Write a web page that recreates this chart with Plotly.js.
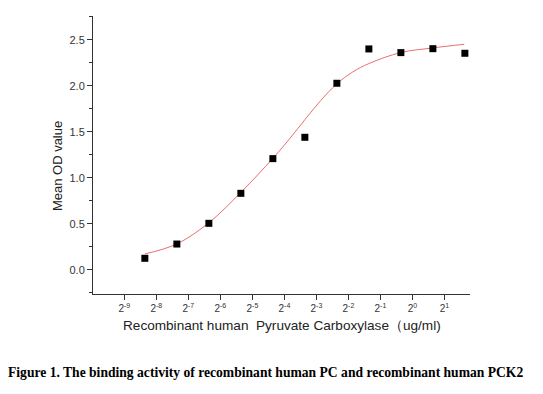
<!DOCTYPE html>
<html>
<head>
<meta charset="utf-8">
<script src="https://cdn.plot.ly/plotly-3.0.1.min.js"></script>
<style>html,body{margin:0;padding:0;background:#fff;}#chart{width:543px;height:394px;}</style>
</head>
<body>
<div id="chart"></div>
<script>
// Concentration as log2(ug/ml)
const concLog2 = [-8.36, -7.36, -6.36, -5.36, -4.36, -3.36, -2.36, -1.36, -0.36, 0.64, 1.64];
const meanOD   = [0.124, 0.279, 0.504, 0.83, 1.207, 1.439, 2.026, 2.399, 2.359, 2.402, 2.352];
// Fitted curve
const fitLog2  = [-8.36, -7.36, -6.36, -5.36, -4.36, -3.82, -3.36, -2.86, -2.36, -1.86, -1.36, -0.36, 0.64, 1.62];
const fitOD    = [0.171, 0.28, 0.51, 0.84, 1.21, 1.43, 1.63, 1.84, 2.02, 2.15, 2.24, 2.36, 2.41, 2.45];
const tickExps = [-9, -8, -7, -6, -5, -4, -3, -2, -1, 0, 1];
const tickText = tickExps.map(e => '2<sup>' + e + '</sup>');
const yTicks = [0.0, 0.5, 1.0, 1.5, 2.0, 2.5];

const traces = [
  {x: fitLog2, y: fitOD, mode: 'lines', type: 'scatter',
   line: {color: '#e8706e', width: 1, shape: 'spline', smoothing: 1}, hoverinfo: 'skip'},
  {x: concLog2, y: meanOD, mode: 'markers', type: 'scatter',
   marker: {symbol: 'square', size: 7, color: '#000'}}
];

const layout = {
  width: 543, height: 394,
  margin: {l: 93, r: 73, t: 16, b: 100},
  paper_bgcolor: '#fff', plot_bgcolor: '#fff',
  showlegend: false,
  font: {family: 'Liberation Sans, Arial, sans-serif', color: '#333'},
  xaxis: {
    range: [-9.98, 1.8], showgrid: false, zeroline: false,
    showline: true, linecolor: '#333', linewidth: 1,
    ticks: 'outside', ticklen: 5, tickcolor: '#333',
    tickvals: tickExps, ticktext: tickText,
    tickfont: {size: 10, color: '#333'}
  },
  yaxis: {
    range: [-0.264, 2.757], showgrid: false, zeroline: false,
    showline: true, linecolor: '#333', linewidth: 1,
    ticks: 'outside', ticklen: 5, tickcolor: '#333',
    tickvals: yTicks, ticktext: yTicks.map(v => v.toFixed(1)),
    tickfont: {size: 11, color: '#333'},
    minor: {dtick: 0.25, tick0: 0, ticks: 'outside', ticklen: 3, tickcolor: '#333'}
  },
  annotations: [
    {text: 'Mean OD value', xref: 'paper', yref: 'paper', x: -0.0955, y: 0.46,
     textangle: -90, showarrow: false, font: {size: 13, color: '#222'}, xanchor: 'center', yanchor: 'middle'},
    {text: 'Recombinant human  Pyruvate Carboxylase（ug/ml)', xref: 'paper', yref: 'paper', x: 0.5, y: -0.115,
     showarrow: false, font: {size: 13.6, color: '#222'}, xanchor: 'center', yanchor: 'middle'},
    {text: '<b>Figure 1. The binding activity of recombinant human PC and recombinant human PCK2</b>',
     xref: 'paper', yref: 'paper', x: -0.232, y: -0.284, xanchor: 'left', yanchor: 'middle',
     showarrow: false, font: {family: 'Liberation Serif, Times New Roman, serif', size: 13.6, color: '#000'}}
  ]
};

Plotly.newPlot('chart', traces, layout, {displayModeBar: false, staticPlot: true});
</script>
</body>
</html>
